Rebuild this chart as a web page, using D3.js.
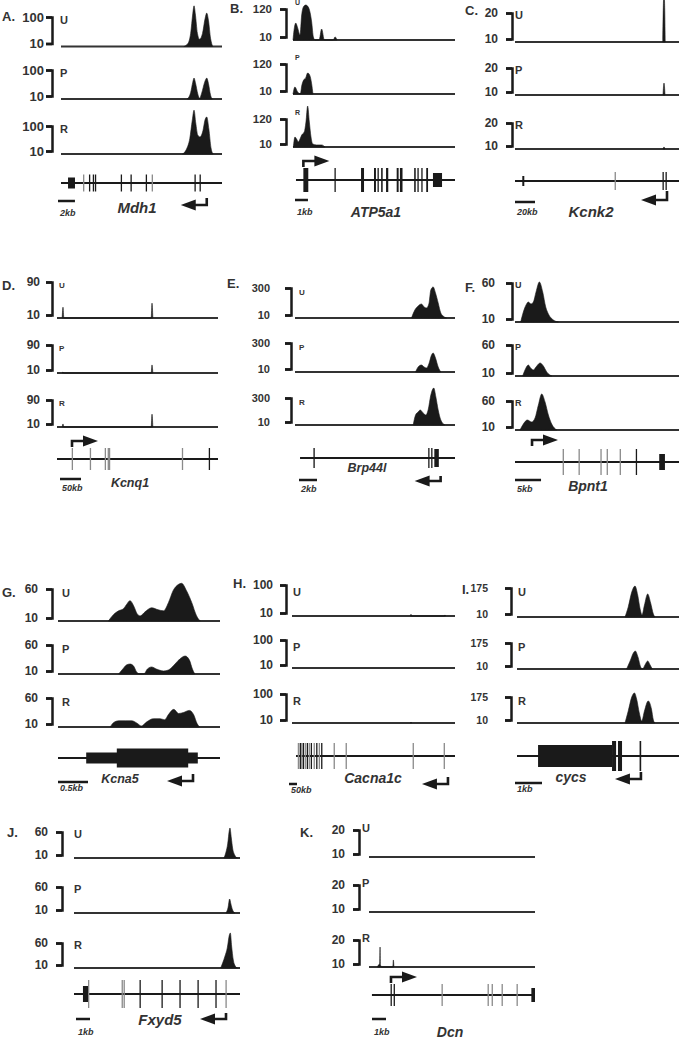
<!DOCTYPE html>
<html>
<head>
<meta charset="utf-8">
<script src="https://cdn.jsdelivr.net/npm/d3@7"></script>
<style>
  body { margin: 0; background: #fff; }
  svg { display: block; }
</style>
</head>
<body>
<div id="chart"></div>
<script>
// ---- data (positions in kb inside each panel window, values in track units) ----
const panelLetters = ["A.", "B.", "C.", "D.", "E.", "F.", "G.", "H.", "I.", "J.", "K."];
const geneNames = ["Mdh1", "ATP5a1", "Kcnk2", "Kcnq1", "Brp44l", "Bpnt1", "Kcna5", "Cacna1c", "cycs", "Fxyd5", "Dcn"];
const trackNames = ["U", "P", "R"];
const topTicks = [100, 120, 20, 90, 300, 60, 60, 100, 175, 60, 20];
const scaleKb = [2, 1, 20, 50, 2, 5, 0.5, 50, 1, 1, 1];
const scaleLabels = ["2kb", "1kb", "20kb", "50kb", "2kb", "5kb", "0.5kb", "50kb", "1kb", "1kb", "1kb"];
const spanKb = [19, 12.5, 164, 383, 17.8, 31.5, 2.7, 1019, 6, 11.86, 11.86];
const geneSpans = [[0, 19], [0.23, 12.5], [0, 164], [0, 383], [0.56, 17.8], [0, 31.5], [0, 2.7], [25, 1019], [0, 6], [0, 11.86], [0.21, 11.86]];
const tssKb = [17.2, 0.8, 152, 35.7, 16.2, 3.27, 2.25, 975, 4.59, 10.86, 1.57];
const strands = ["-", "+", "-", "+", "-", "+", "-", "-", "-", "-", "+"];

// A. Mdh1
const mdh1U = [[14.5,10],[15.0,20],[15.3,50],[15.55,110],[15.7,134],[15.85,110],[16.1,50],[16.35,32],[16.7,50],[17.0,95],[17.2,112],[17.4,90],[17.65,35],[17.9,10]];
const mdh1P = [[14.9,10],[15.3,30],[15.55,62],[15.7,75],[15.85,62],[16.15,25],[16.35,12],[16.6,28],[16.95,62],[17.2,75],[17.4,58],[17.65,22],[17.85,10]];
const mdh1R = [[14.35,10],[14.8,25],[15.2,60],[15.5,120],[15.7,151],[15.9,110],[16.15,70],[16.4,65],[16.75,85],[17.0,120],[17.2,129],[17.45,90],[17.7,30],[17.95,10]];
const mdh1Exons = [[0.83,1.65,"u"],[2.6,2.75,"g"],[3.3,3.45,"l"],[3.75,3.9,"l"],[4.0,4.15,"l"],[7.05,7.2,"l"],[8.2,8.35,"l"],[10.0,10.15,"l"],[10.7,10.85,"g"],[15.75,15.9,"l"],[16.35,16.5,"l"]];

// B. ATP5a1
const atp5a1U = [[0,10],[0.08,45],[0.21,70],[0.36,53],[0.54,28],[0.67,99],[0.8,127],[0.98,134],[1.18,127],[1.31,109],[1.44,74],[1.57,21],[1.7,10],[2.01,10],[2.21,49],[2.42,10],[3.11,10],[3.24,21],[3.4,10]];
const atp5a1P = [[0,10],[0.15,36],[0.36,17],[0.57,10],[0.67,39],[0.82,61],[0.98,69],[1.13,87],[1.28,80],[1.44,47],[1.54,10]];
const atp5a1R = [[0.03,10],[0.15,49],[0.28,41],[0.41,30],[0.54,41],[0.67,57],[0.87,69],[1.0,108],[1.13,171],[1.26,108],[1.39,49],[1.52,22],[1.83,18],[2.21,18],[2.47,10]];
const atp5a1Exons = [[0.8,1.18,"l"],[3.2,3.28,"l"],[5.25,5.48,"l"],[6.25,6.4,"l"],[6.52,6.62,"l"],[6.8,6.92,"l"],[7.18,7.35,"l"],[8.0,8.15,"l"],[8.25,8.45,"l"],[9.35,9.47,"l"],[9.6,9.7,"l"],[9.9,10.0,"l"],[10.28,10.42,"l"],[10.8,11.5,"u"]];

// C. Kcnk2
const kcnk2U = [[147.8,10],[148.6,24.5],[149.4,24.5],[150.2,10]];
const kcnk2P = [[148,10],[149,14.4],[150,10]];
const kcnk2R = [[148,10],[149,10.8],[150,10]];
const kcnk2Exons = [[7.3,9.3,"u"],[99.6,100.4,"g"],[147.5,148.5,"l"],[150.5,151.5,"l"]];

// D. Kcnq1
const kcnq1U = [[12.3,10],[14.3,34],[16.3,10],[224,10],[226,43],[228,10]];
const kcnq1P = [[12.3,10],[14.3,13],[16.3,10],[224,10],[226,33],[228,10]];
const kcnq1R = [[12.3,10],[14.3,19],[16.3,10],[224,10],[226,48],[228,10]];
const kcnq1Exons = [[35,36.5,"g"],[78,79.5,"g"],[113.5,115,"g"],[120.5,122,"g"],[123.5,125,"g"],[297,298.5,"g"],[361,362.5,"l"]];

// E. Brp44l
const brp44lU = [[12.96,10],[13.33,87],[13.7,126],[14.07,145],[14.37,116],[14.63,107],[14.89,145],[15.11,281],[15.37,310],[15.63,252],[15.93,155],[16.22,58],[16.48,29],[16.85,10]];
const brp44lP = [[13.41,10],[13.7,60],[14.07,80],[14.37,60],[14.63,50],[14.89,90],[15.19,180],[15.37,200],[15.63,150],[15.93,60],[16.22,10]];
const brp44lR = [[13.15,10],[13.41,117],[13.7,150],[13.93,171],[14.26,139],[14.56,117],[14.81,171],[15.11,332],[15.44,407],[15.67,311],[15.93,171],[16.22,64],[16.67,10]];
const brp44lExons = [[2.05,2.2,"l"],[14.82,14.95,"l"],[15.15,15.28,"l"],[15.5,16.0,"c"]];

// F. Bpnt1
const bpnt1U = [[1.09,10],[1.6,22.8],[2.12,31.8],[2.56,35.6],[3.08,33.1],[3.53,35.6],[4.04,48.5],[4.68,61.3],[5.32,48.5],[5.9,29.2],[6.41,20.3],[7.37,12.6],[8.33,10]];
const bpnt1P = [[1.47,10],[1.92,19.7],[2.56,27.7],[3.01,22.9],[3.53,19.7],[4.04,24.5],[4.81,31],[5.45,26.1],[6.09,16.5],[7.05,10]];
const bpnt1R = [[0.96,10],[1.6,20.3],[2.37,27.2],[3.21,23.8],[3.85,30.7],[4.49,53.1],[5.13,72.1],[5.77,58.3],[6.41,35.9],[7.05,20.3],[8.01,10]];
const bpnt1Exons = [[9.15,9.3,"g"],[12.2,12.35,"g"],[16.4,16.55,"g"],[17.6,17.75,"g"],[20.1,20.25,"g"],[23.2,23.4,"l"],[27.7,28.8,"c"]];

// G. Kcna5
const kcna5U = [[0.84,10],[0.92,19.5],[1.01,25.9],[1.09,29.1],[1.14,35.4],[1.2,41.8],[1.26,33.9],[1.32,21.1],[1.37,18],[1.45,24.3],[1.56,30.7],[1.67,27.5],[1.76,25.9],[1.84,38.6],[1.92,57.7],[2.01,67.3],[2.06,68.9],[2.14,57.7],[2.23,38.6],[2.31,18],[2.37,10]];
const kcna5P = [[1.01,10],[1.08,18.6],[1.14,25.5],[1.2,27.2],[1.26,23.8],[1.31,13.4],[1.36,10],[1.43,10],[1.49,18.6],[1.56,22.1],[1.64,18.6],[1.76,15.2],[1.84,16.9],[1.95,27.2],[2.03,35.9],[2.12,41],[2.19,34.1],[2.24,18.6],[2.28,10]];
const kcna5R = [[0.87,10],[0.92,17.1],[1.01,20.7],[1.12,20.7],[1.23,20.7],[1.31,17.1],[1.39,11.8],[1.48,18.9],[1.59,24.3],[1.7,24.3],[1.78,22.5],[1.84,31.4],[1.93,40.4],[2.01,33.2],[2.09,35],[2.19,38.6],[2.26,31.4],[2.32,15.4],[2.36,10]];
const kcna5Exons = [[0.47,2.33,"u"],[0.98,2.17,"c"]];

// H. Cacna1c
const cacna1cU = [[740,10],[744,15],[748,10],[952,10],[956,13],[960,10]];
const cacna1cP = [];
const cacna1cR = [[740,10],[744,13],[748,10]];
const cacna1cExons = [[36,40,"g"],[48,52,"l"],[57,61,"g"],[67,71,"l"],[79,83,"g"],[92,96,"l"],[104,108,"g"],[117,121,"l"],[135,139,"g"],[151,155,"l"],[167,171,"g"],[182,186,"l"],[260,264,"g"],[335,339,"g"],[754,758,"g"],[948,952,"g"]];

// I. cycs
const cycsU = [[4.0,10],[4.12,66.9],[4.25,152],[4.37,186],[4.47,135],[4.56,55.5],[4.63,21.4],[4.72,78],[4.84,141],[4.95,89.7],[5.05,27],[5.11,10]];
const cycsP = [[4.06,10],[4.19,60.8],[4.31,111.6],[4.38,124.3],[4.48,86.2],[4.58,22.7],[4.65,10],[4.74,35.4],[4.84,60.8],[4.93,35.4],[5.01,10]];
const cycsR = [[4.0,10],[4.12,86.2],[4.25,175],[4.35,200.5],[4.43,162.4],[4.53,73.5],[4.62,22.7],[4.72,86.2],[4.86,149.7],[4.98,98.9],[5.05,29],[5.11,10]];
const cycsExons = [[0.78,3.52,"c"],[3.52,3.67,"l"],[3.74,3.89,"l"],[4.54,4.6,"l"]];

// J. Fxyd5
const fxyd5U = [[10.71,10],[10.86,21.5],[10.98,36.9],[11.1,63.8],[11.14,67.7],[11.24,48.5],[11.33,29.2],[11.48,15.8],[11.67,10]];
const fxyd5P = [[10.86,10],[11.0,19.6],[11.12,36.9],[11.21,27.3],[11.33,15.8],[11.5,10]];
const fxyd5R = [[10.48,10],[10.62,20],[10.79,34],[10.95,50],[11.1,76],[11.17,80],[11.26,54],[11.38,26],[11.52,14],[11.67,10]];
const fxyd5Exons = [[0.64,1.0,"c"],[1.0,1.07,"g"],[3.4,3.47,"g"],[3.54,3.61,"g"],[4.68,4.76,"l"],[6.25,6.33,"l"],[7.53,7.61,"l"],[8.82,8.9,"l"],[10.1,10.18,"l"],[10.82,10.9,"g"]];

// K. Dcn
const dcnU = [];
const dcnP = [];
const dcnR = [[0.6,10],[0.72,11],[0.77,11.1],[0.79,17.4],[0.81,11],[0.9,10],[1.7,10],[1.74,12.6],[1.78,10]];
const dcnExons = [[1.54,1.6,"l"],[1.76,1.82,"l"],[5.18,5.24,"g"],[8.47,8.53,"g"],[8.76,8.82,"g"],[9.47,9.53,"g"],[10.54,10.6,"g"],[11.6,11.86,"c"]];

const tracks = [
  [mdh1U, mdh1P, mdh1R], [atp5a1U, atp5a1P, atp5a1R], [kcnk2U, kcnk2P, kcnk2R],
  [kcnq1U, kcnq1P, kcnq1R], [brp44lU, brp44lP, brp44lR], [bpnt1U, bpnt1P, bpnt1R],
  [kcna5U, kcna5P, kcna5R], [cacna1cU, cacna1cP, cacna1cR], [cycsU, cycsP, cycsR],
  [fxyd5U, fxyd5P, fxyd5R], [dcnU, dcnP, dcnR]
];
const exons = [mdh1Exons, atp5a1Exons, kcnk2Exons, kcnq1Exons, brp44lExons, bpnt1Exons,
  kcna5Exons, cacna1cExons, cycsExons, fxyd5Exons, dcnExons];

// ---- layout of each panel ----
const layout = [
  {x0:61,x1:222,axisX:52,base:[46.5,99,154],tops:[17,70,126],tickPad:2,tickSize:13,letterDx:8,letterDy:3,letterSize:11,geneY:183,exonH:8.5,boxH:8,utrH:5.5,arrowY:205,hook:7,barX:58,barY:201,barDy:15,nameX:137,nameY:213,nameSize:15,labelX:2,labelY:21},
  {x0:293,x1:455,axisX:286,base:[40,94,147],tops:[9,64,119],tickPad:8,tickSize:11.5,letterDx:9,letterDy:-6,letterSize:7,geneY:180,exonH:12,boxH:10,utrH:7,arrowY:161,hook:6,barX:295,barY:200,barDy:15,nameX:376,nameY:217,nameSize:14,labelX:230,labelY:13},
  {x0:515,x1:679,axisX:512,base:[42,95,149],tops:[13,68,123],tickPad:8,tickSize:12,letterDx:3,letterDy:2,letterSize:11,geneY:181,exonH:9,boxH:8,utrH:5,arrowY:200,hook:9,barX:515,barY:202,barDy:13,nameX:591,nameY:217,nameSize:15,labelX:465,labelY:15},
  {x0:57,x1:218,axisX:52,base:[318,373,427],tops:[282,345,400],tickPad:6,tickSize:12,letterDx:7,letterDy:3,letterSize:8,geneY:459,exonH:11,boxH:8,utrH:5,arrowY:441,hook:6,barX:60,barY:479,barDy:12,nameX:130,nameY:487,nameSize:12.5,labelX:2,labelY:290},
  {x0:295,x1:455,axisX:291,base:[318,372,425],tops:[288,343,398],tickPad:15,tickSize:11,letterDx:8,letterDy:4,letterSize:8,geneY:458,exonH:10,boxH:9,utrH:5,arrowY:481,hook:5,barX:299,barY:480,barDy:12,nameX:367,nameY:472,nameSize:12.5,labelX:227,labelY:288},
  {x0:515,x1:679,axisX:512,base:[322,376,430],tops:[283,345,401],tickPad:11,tickSize:12,letterDx:3,letterDy:2,letterSize:9,geneY:462,exonH:13,boxH:8,utrH:5,arrowY:440,hook:6,barX:515,barY:480,barDy:12,nameX:588,nameY:491,nameSize:14,labelX:465,labelY:292},
  {x0:58,x1:220,axisX:52,base:[621,674,727],tops:[589,645,698],tickPad:8,tickSize:12,letterDx:10,letterDy:4,letterSize:11,geneY:758,exonH:10,boxH:9.5,utrH:5.5,arrowY:781,hook:7,barX:58,barY:782,barDy:9,nameX:120,nameY:783,nameSize:12.5,labelX:2,labelY:597},
  {x0:292,x1:455,axisX:286,base:[616,668,723],tops:[585,640,694],tickPad:7,tickSize:12,letterDx:7,letterDy:7,letterSize:11,geneY:756,exonH:13,boxH:8,utrH:5,arrowY:784,hook:7,barX:289,barY:784,barDy:9,nameX:373,nameY:783,nameSize:14,labelX:233,labelY:588},
  {x0:517,x1:679,axisX:511,base:[617,669,723],tops:[588,643,697],tickPad:17,tickSize:10.5,letterDx:7,letterDy:4,letterSize:11,geneY:756,exonH:15,boxH:11,utrH:5,arrowY:779,hook:7,barX:515,barY:783,barDy:9,nameX:571,nameY:782,nameSize:14,labelX:462,labelY:594},
  {x0:74,x1:240,axisX:62,base:[858,913,968],tops:[832,887,943],tickPad:8,tickSize:12,letterDx:12,letterDy:2,letterSize:11,geneY:994,exonH:14,boxH:8,utrH:5,arrowY:1019,hook:6,barX:76,barY:1019,barDy:16,nameX:160,nameY:1025,nameSize:15,labelX:7,labelY:837},
  {x0:369,x1:535,axisX:359,base:[857,912,967],tops:[830,885,940],tickPad:8,tickSize:12,letterDx:3,letterDy:-2,letterSize:11,geneY:995,exonH:11,boxH:7,utrH:5,arrowY:977,hook:6,barX:372,barY:1019,barDy:16,nameX:450,nameY:1037,nameSize:14,labelX:300,labelY:837}
];

const font = "'Liberation Sans', Arial, sans-serif";
const ink = "#1a1a1a";
const textInk = "#333";

const svg = d3.select("#chart").append("svg")
  .attr("width", 679)
  .attr("height", 1039)
  .style("background", "#fff");

layout.forEach((L, i) => {
  const g = svg.append("g");
  const x = d3.scaleLinear().domain([0, spanKb[i]]).range([L.x0, L.x1]);

  g.append("text")
    .attr("x", L.labelX).attr("y", L.labelY)
    .attr("font-family", font).attr("font-weight", "bold").attr("font-size", 13)
    .attr("fill", textInk)
    .text(panelLetters[i]);

  trackNames.forEach((name, t) => {
    const base = L.base[t], top = L.tops[t];
    const y = d3.scaleLinear().domain([10, topTicks[i]]).range([base, top]);
    const yBracket = d3.scaleLinear().domain([10, topTicks[i]]).range([base - 3, top]);

    g.append("line")
      .attr("x1", L.x0).attr("x2", L.x1)
      .attr("y1", base).attr("y2", base)
      .attr("stroke", "#333").attr("stroke-width", 2.2);

    const area = d3.area()
      .x(d => x(d[0]))
      .y0(base)
      .y1(d => y(d[1]))
      .curve(d3.curveMonotoneX);

    if (tracks[i][t].length) {
      g.append("path")
        .datum(tracks[i][t])
        .attr("d", area)
        .attr("fill", ink)
        .attr("stroke", ink)
        .attr("stroke-width", 0.6)
        .attr("stroke-linejoin", "round");
    }

    const ax = g.append("g")
      .attr("transform", `translate(${L.axisX},0)`)
      .call(d3.axisLeft(yBracket)
        .tickValues([10, topTicks[i]])
        .tickSize(6)
        .tickPadding(L.tickPad)
        .tickFormat(d3.format("d")));
    ax.attr("font-family", font).attr("font-size", L.tickSize);
    ax.select(".domain").attr("stroke", ink).attr("stroke-width", 2.5);
    ax.selectAll(".tick line").attr("stroke", ink).attr("stroke-width", 2.5);
    ax.selectAll(".tick text").attr("font-weight", "bold").attr("fill", textInk);

    g.append("text")
      .attr("x", L.axisX + L.letterDx)
      .attr("y", top + L.letterDy)
      .attr("dy", "0.35em")
      .attr("font-family", font).attr("font-weight", "bold")
      .attr("font-size", L.letterSize)
      .attr("fill", textInk)
      .text(name);
  });

  // gene model
  g.append("line")
    .attr("x1", x(geneSpans[i][0])).attr("x2", x(geneSpans[i][1]))
    .attr("y1", L.geneY).attr("y2", L.geneY)
    .attr("stroke", ink).attr("stroke-width", 2);

  const halfH = k => (k === "c" ? L.boxH : k === "u" ? L.utrH : L.exonH);
  g.selectAll(null)
    .data(exons[i])
    .join("rect")
    .attr("x", d => x(d[0]))
    .attr("width", d => Math.max(1.3, x(d[1]) - x(d[0])))
    .attr("y", d => L.geneY - halfH(d[2]))
    .attr("height", d => 2 * halfH(d[2]))
    .attr("fill", d => (d[2] === "g" ? "#8a8a8a" : ink));

  // transcription start arrow
  const hx = x(tssKb[i]);
  const dir = strands[i] === "+" ? 1 : -1;
  const towardGene = L.geneY > L.arrowY ? 1 : -1;
  g.append("path")
    .attr("d", `M${hx},${L.arrowY + towardGene * L.hook}V${L.arrowY}H${hx + dir * 12}`)
    .attr("fill", "none").attr("stroke", ink).attr("stroke-width", 2.6);
  g.append("path")
    .attr("d", `M${hx + dir * 11},${L.arrowY - 5.5}L${hx + dir * 26},${L.arrowY}L${hx + dir * 11},${L.arrowY + 5.5}Z`)
    .attr("fill", ink);

  // scale bar
  const barW = x(scaleKb[i]) - x(0);
  g.append("line")
    .attr("x1", L.barX).attr("x2", L.barX + barW)
    .attr("y1", L.barY).attr("y2", L.barY)
    .attr("stroke", ink).attr("stroke-width", 2.5);
  g.append("text")
    .attr("x", L.barX + 2).attr("y", L.barY + L.barDy)
    .attr("font-family", font).attr("font-weight", "bold").attr("font-style", "italic")
    .attr("font-size", 9).attr("fill", textInk)
    .text(scaleLabels[i]);

  // gene name
  g.append("text")
    .attr("x", L.nameX).attr("y", L.nameY)
    .attr("text-anchor", "middle")
    .attr("font-family", font).attr("font-weight", "bold").attr("font-style", "italic")
    .attr("font-size", L.nameSize).attr("fill", textInk)
    .text(geneNames[i]);
});
</script>
</body>
</html>
